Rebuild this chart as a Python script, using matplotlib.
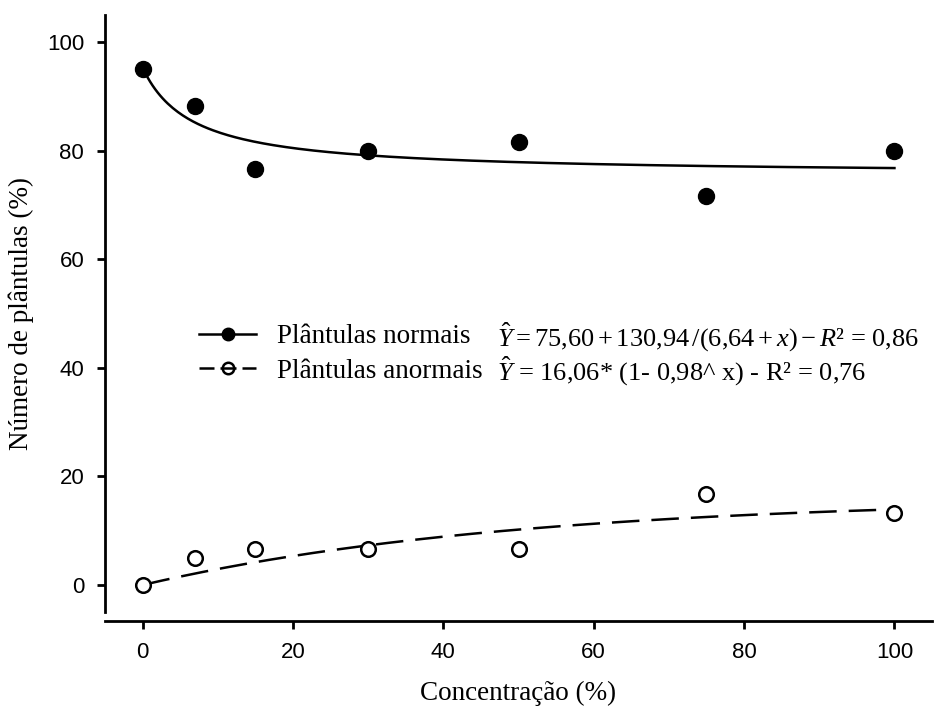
import numpy as np
import matplotlib
matplotlib.use('Agg')
import matplotlib.pyplot as plt

# data
concentracao = [0, 7, 15, 30, 50, 75, 100]
normais = [95.0, 88.3, 76.7, 80.0, 81.7, 71.7, 80.0]
anormais = [0.0, 5.0, 6.7, 6.7, 6.7, 16.7, 13.3]

# fitted models, coefficients as printed on the chart
a_norm, b_norm, c_norm = 75.60, 130.94, 6.64
a_anorm, b_anorm = 16.06, 0.98

xticks = [0, 20, 40, 60, 80, 100]
yticks = [0, 20, 40, 60, 80, 100]

eq_normais = r'$\hat{Y} = 75{,}60 + 130{,}94\,/(6{,}64 + x) - R$² = 0,86'
eq_anormais = r'$\hat{Y}$ = 16,06* (1- 0,98^ x) - R² = 0,76'

plt.rcParams['font.family'] = ['Liberation Serif', 'DejaVu Serif']
plt.rcParams['mathtext.fontset'] = 'custom'
plt.rcParams['mathtext.rm'] = 'Liberation Serif'
plt.rcParams['mathtext.it'] = 'Liberation Serif:italic'

fig = plt.figure(figsize=(9.37, 7.13), dpi=100)
ax = fig.add_axes([0.1121, 0.1415, 0.8826, 0.8372])

xfit = np.linspace(0, 100, 300)
yfit_norm = a_norm + b_norm / (c_norm + xfit)
yfit_anorm = a_anorm * (1 - b_anorm ** xfit)

ax.plot(xfit, yfit_norm, color='black', lw=1.8)
ax.plot(xfit, yfit_anorm, color='black', lw=1.8, linestyle=(0, (11, 4.8)))
ax.plot(concentracao, normais, 'o', color='black', ms=11.5, zorder=3)
ax.plot(concentracao, anormais, 'o', mfc='white', mec='black', mew=1.8, ms=10.5, zorder=3)

# legend handles (line + marker)
h1, = ax.plot([], [], color='black', lw=1.8, marker='o', ms=12)
h2, = ax.plot([], [], color='black', lw=1.8, marker='o', mfc='none', mec='black',
              mew=1.8, ms=11, linestyle=(0, (6, 2.4, 6.4, 2.4)))
ax.legend([h1, h2], ['Plântulas normais', 'Plântulas anormais'],
          loc='center left', bbox_to_anchor=(7.56, 42.6), bbox_transform=ax.transData,
          frameon=False, borderpad=0, borderaxespad=0, handlelength=2.1,
          handletextpad=0.75, labelspacing=0.35, markerscale=0.75, numpoints=1,
          fontsize=19.5)

ax.text(47.1, 44.0, eq_normais, fontsize=19, va='baseline', ha='left')
ax.text(47.1, 37.6, eq_anormais, fontsize=19, va='baseline', ha='left')

ax.set_xlim(-5, 105)
ax.set_ylim(-5, 105)
ax.set_xticks(xticks)
ax.set_yticks(yticks)

for side in ['top', 'right']:
    ax.spines[side].set_visible(False)
for side in ['left', 'bottom']:
    ax.spines[side].set_linewidth(2.0)
ax.spines['bottom'].set_position(('outward', 6.2))

ax.tick_params(direction='out', length=6, width=2.0, pad=9, labelsize=16)
for lab in ax.get_xticklabels() + ax.get_yticklabels():
    lab.set_fontfamily('Liberation Sans')

ax.set_xlabel('Concentração (%)', fontsize=19.5, labelpad=13)
ax.set_ylabel('Número de plântulas (%)', fontsize=19.5, labelpad=9)

fig.savefig('out.png', dpi=100)
